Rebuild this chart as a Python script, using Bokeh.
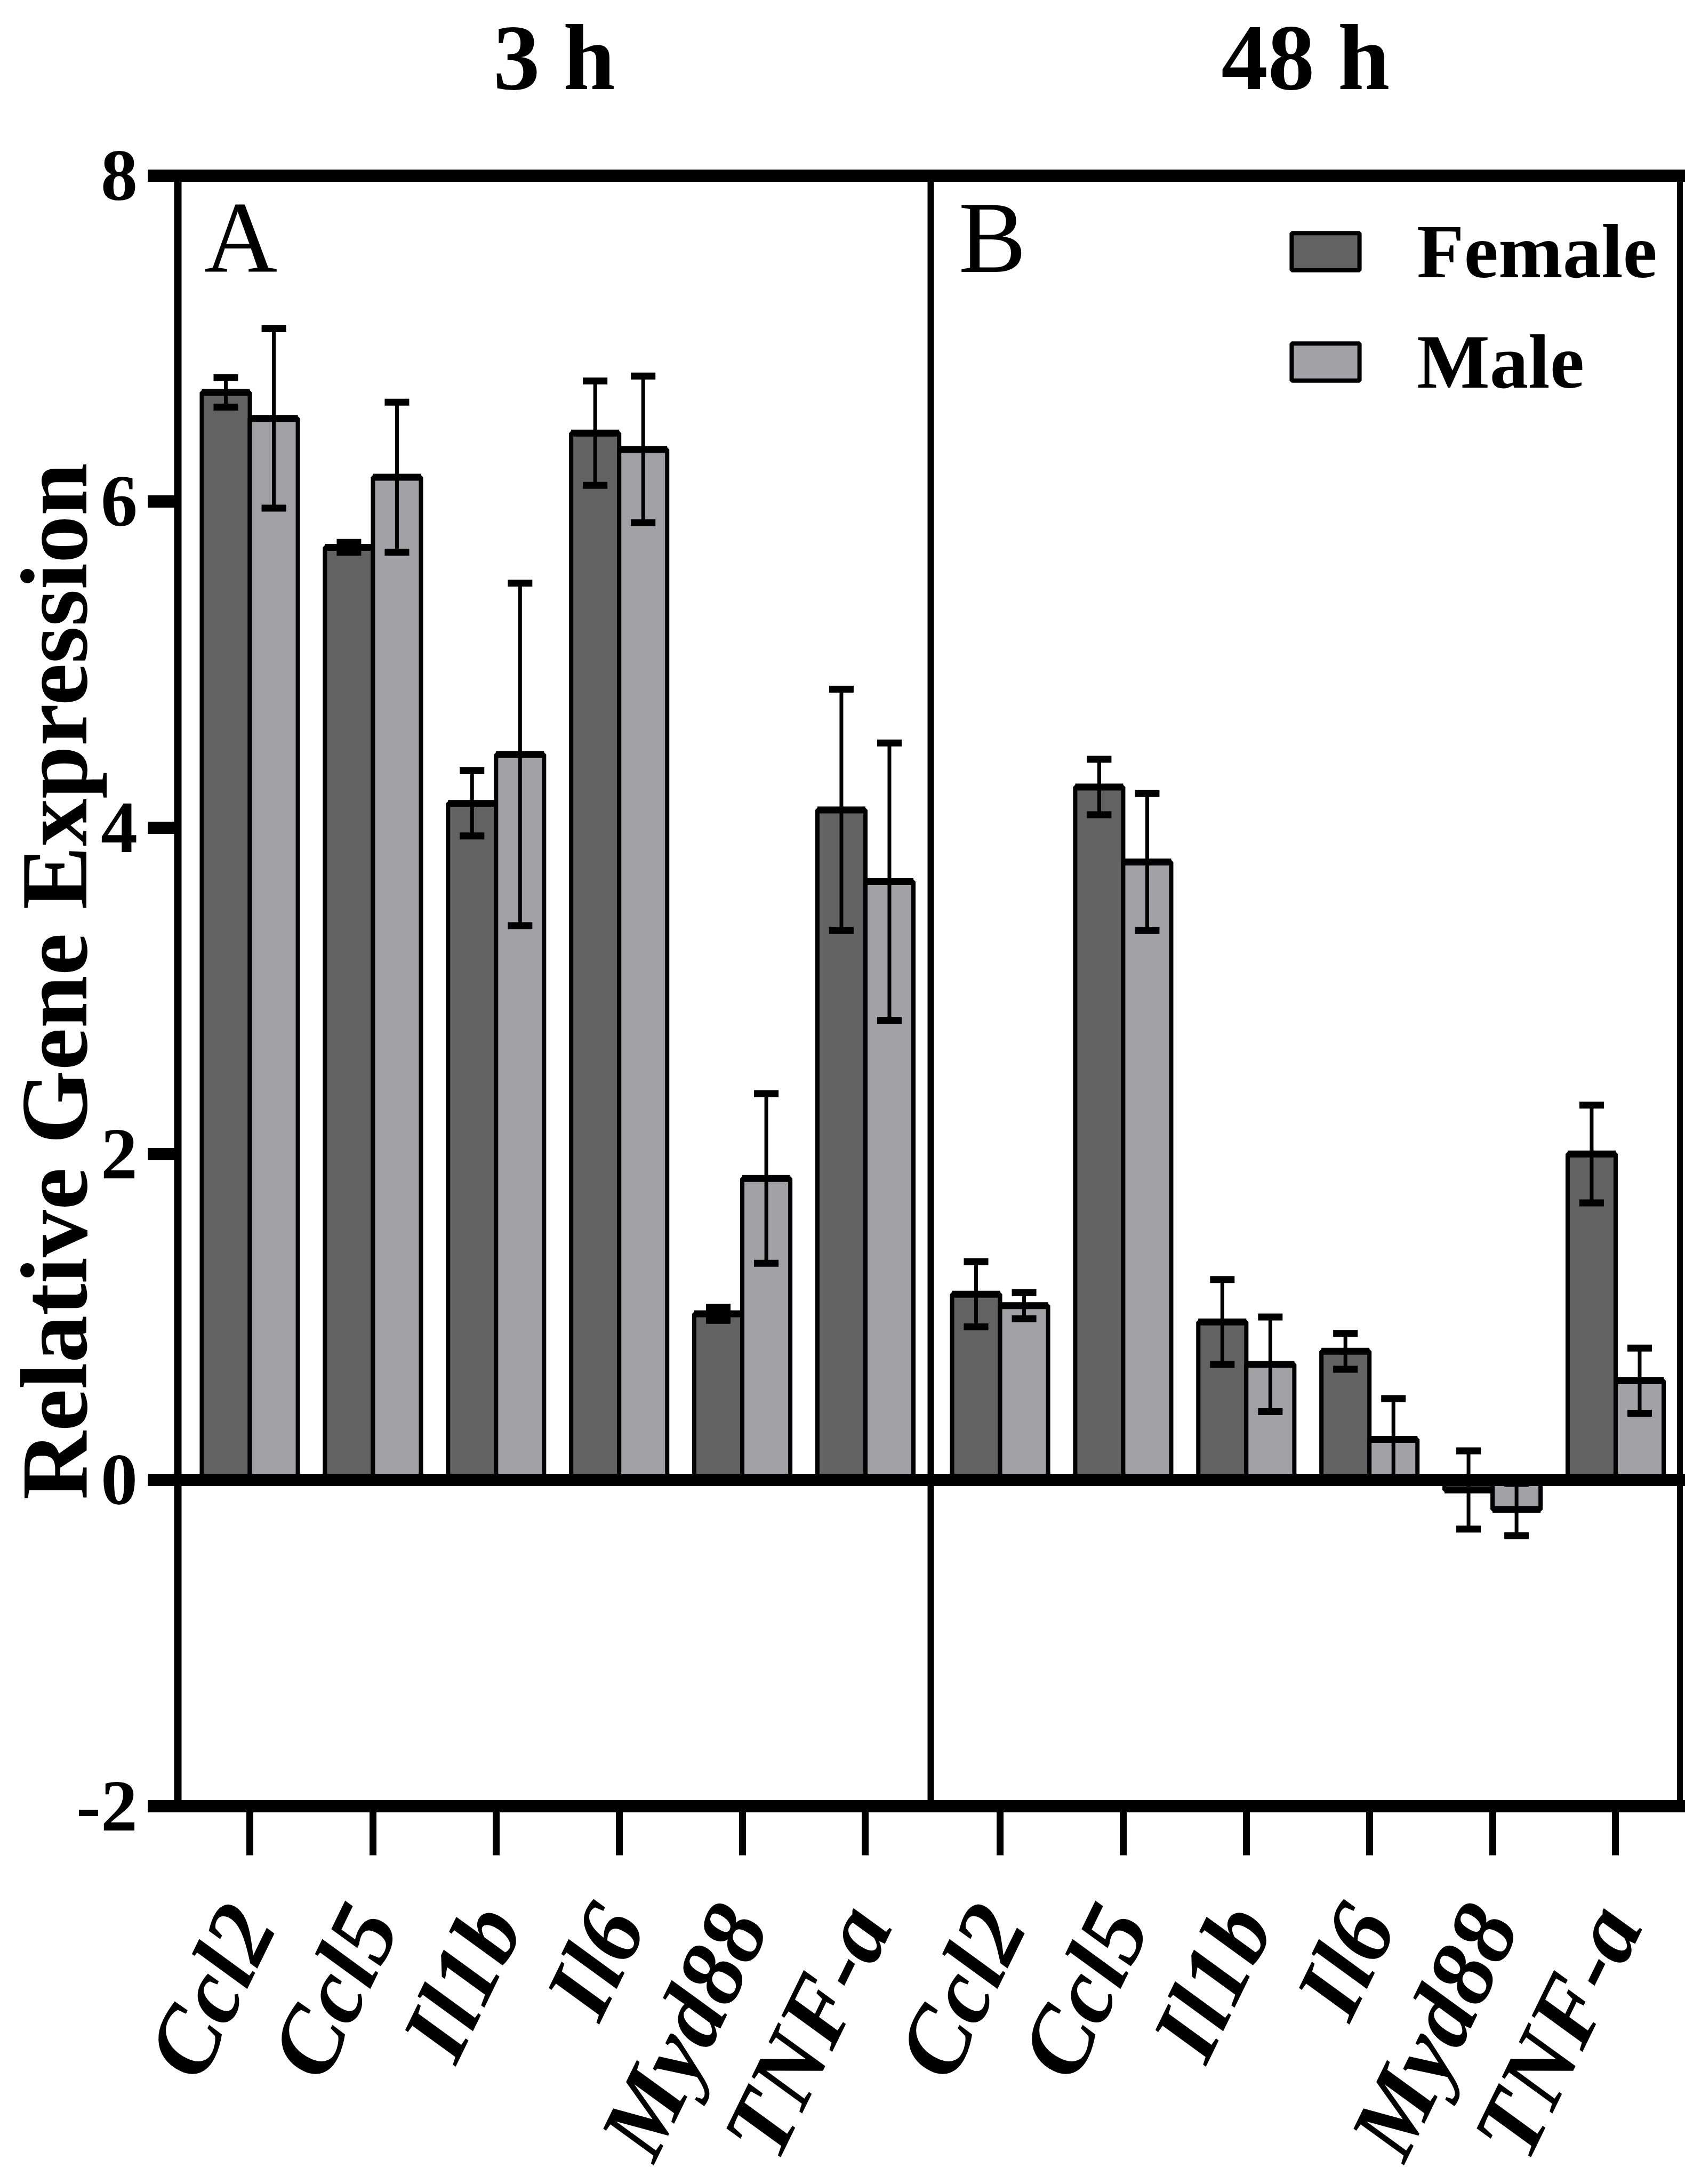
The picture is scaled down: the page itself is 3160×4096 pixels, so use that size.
import math
from bokeh.plotting import figure
from bokeh.models import (Range1d, LinearAxis, FixedTicker, CustomJSTickFormatter, ColumnDataSource,
                          Whisker, TeeHead, Label, Legend, LegendItem)
from bokeh.embed import file_html
from bokeh.resources import INLINE

# ---------------- data ----------------
genes = ["Ccl2", "Ccl5", "Il1b", "Il6", "Myd88", "TNF-a"]
panel_titles = ["3 h", "48 h"]
panel_letters = ["A", "B"]
series_names = ["Female", "Male"]

female_3h = [6.67, 5.72, 4.15, 6.42, 1.02, 4.11]
female_3h_err = [0.09, 0.03, 0.20, 0.32, 0.04, 0.74]
male_3h = [6.51, 6.15, 4.45, 6.32, 1.85, 3.67]
male_3h_err = [0.55, 0.46, 1.05, 0.45, 0.52, 0.85]

female_48h = [1.14, 4.25, 0.97, 0.79, -0.06, 2.00]
female_48h_err = [0.20, 0.17, 0.26, 0.11, 0.24, 0.30]
male_48h = [1.07, 3.79, 0.71, 0.25, -0.18, 0.61]
male_48h_err = [0.08, 0.42, 0.29, 0.25, 0.16, 0.20]

y_ticks = [-2, 0, 2, 4, 6, 8]
Y_MIN, Y_MAX = -2, 8

# ---------------- layout / style ----------------
FONT = "Liberation Serif"
W, H = 3160, 4096
# frame edges in canvas pixels
FR_L, FR_R, FR_T, FR_B = 332.5, 3150.2, 328.6, 3387.2
X_LEFT, X_DIV, X_RIGHT = -0.587, 5.532, 11.617
B_OFFSET = 6.094
BAR_W = 0.39
FEMALE_COLOR = "#626262"
MALE_COLOR = "#A2A2A6"

ux = (FR_R - FR_L) / (X_RIGHT - X_LEFT)
uy = (FR_B - FR_T) / (Y_MAX - Y_MIN)
x_start = X_LEFT - FR_L / ux
x_end = X_RIGHT + (W - FR_R) / ux
y_end = Y_MAX + FR_T / uy
y_start = Y_MIN - (H - FR_B) / uy

centers = [i for i in range(len(genes))] + [B_OFFSET + i for i in range(len(genes))]
labels_all = genes + genes

female_vals = female_3h + female_48h
female_errs = female_3h_err + female_48h_err
male_vals = male_3h + male_48h
male_errs = male_3h_err + male_48h_err


def make_src(vals, errs, shift):
    xs = [c + shift for c in centers]
    return ColumnDataSource(dict(
        x=xs,
        top=vals,
        x0=[x - BAR_W / 2 for x in xs],
        x1=[x + BAR_W / 2 for x in xs],
        upper=[v + e for v, e in zip(vals, errs)],
        lower=[v - e for v, e in zip(vals, errs)],
    ))


src_f = make_src(female_vals, female_errs, -BAR_W / 2)
src_m = make_src(male_vals, male_errs, BAR_W / 2)

p = figure(width=W, height=H,
           x_range=Range1d(x_start, x_end), y_range=Range1d(y_start, y_end),
           x_axis_location=None, y_axis_location=None,
           output_backend="svg", toolbar_location=None,
           min_border=0, min_border_left=0, min_border_right=0,
           min_border_top=0, min_border_bottom=0)
for g in list(p.xgrid) + list(p.ygrid):
    g.visible = False
p.background_fill_color = "white"
p.border_fill_color = "white"
p.outline_line_color = None

rf = p.vbar(x="x", top="top", bottom=0, width=BAR_W, source=src_f,
            fill_color=FEMALE_COLOR, line_color="black", line_width=8)
rm = p.vbar(x="x", top="top", bottom=0, width=BAR_W, source=src_m,
            fill_color=MALE_COLOR, line_color="black", line_width=8)
for s in (src_f, src_m):
    p.segment(x0="x0", y0="top", x1="x1", y1="top", source=s,
              line_color="black", line_width=13)


def plain_axis(axis, width):
    axis.ticker = FixedTicker(ticks=[])
    axis.axis_line_width = width
    axis.axis_line_color = "black"
    axis.axis_line_cap = "square"
    axis.major_tick_line_color = None
    axis.minor_tick_line_color = None
    axis.major_label_text_font_size = "0px"
    return axis


# frame lines, zero line and panel divider as bounded axes
p.add_layout(plain_axis(LinearAxis(fixed_location=Y_MAX, bounds=(X_LEFT, X_RIGHT)), 23), "above")
p.add_layout(plain_axis(LinearAxis(fixed_location=0, bounds=(X_LEFT, X_RIGHT)), 23), "below")
p.add_layout(plain_axis(LinearAxis(fixed_location=X_RIGHT, bounds=(Y_MIN, Y_MAX)), 11), "right")
p.add_layout(plain_axis(LinearAxis(fixed_location=X_DIV, bounds=(Y_MIN, Y_MAX)), 12), "right")

# y axis
ya = LinearAxis(fixed_location=X_LEFT, bounds=(Y_MIN, Y_MAX))
ya.ticker = FixedTicker(ticks=y_ticks)
ya.formatter = CustomJSTickFormatter(code="return tick.toFixed(0);")
ya.axis_line_width = 14
ya.axis_line_cap = "square"
ya.major_tick_line_width = 23
ya.major_tick_out = 56
ya.major_tick_in = 0
ya.minor_tick_line_color = None
ya.major_label_standoff = 19
ya.major_label_text_font = FONT
ya.major_label_text_font_style = "bold"
ya.major_label_text_font_size = "138px"
ya.major_label_text_color = "black"
p.add_layout(ya, "left")

# x axis
xa = LinearAxis(fixed_location=Y_MIN, bounds=(X_LEFT, X_RIGHT))
xa.ticker = FixedTicker(ticks=centers)
xa.formatter = CustomJSTickFormatter(args=dict(pos=centers, names=labels_all), code="""
let best = 0, d = 1e9;
for (let i = 0; i < pos.length; i++) { const e = Math.abs(pos[i] - tick); if (e < d) { d = e; best = i; } }
return names[best];
""")
xa.axis_line_width = 23
xa.axis_line_cap = "square"
xa.major_tick_line_width = 13
xa.major_tick_out = 92
xa.major_tick_in = 0
xa.minor_tick_line_color = None
xa.major_label_orientation = math.radians(64)
xa.major_label_standoff = 105
xa.major_label_text_font = FONT
xa.major_label_text_font_style = "bold italic"
xa.major_label_text_font_size = "176px"
xa.major_label_text_color = "black"
p.add_layout(xa, "below")

for s in (src_f, src_m):
    w = Whisker(source=s, base="x", upper="upper", lower="lower",
                line_color="black", line_width=7, level="annotation",
                upper_head=TeeHead(size=46, line_color="black", line_width=13),
                lower_head=TeeHead(size=46, line_color="black", line_width=13))
    p.add_layout(w)

# panel titles
for title, lo, hi in zip(panel_titles, [X_LEFT, X_DIV], [X_DIV, X_RIGHT]):
    p.add_layout(Label(x=(lo + hi) / 2, y=Y_MAX, y_offset=FR_T - 107, text=title,
                       text_align="center", text_baseline="middle",
                       text_font=FONT, text_font_style="bold",
                       text_font_size="175px", text_color="black"))

# panel letters
for letter, lo, off in zip(panel_letters, [X_LEFT, X_DIV], [50, 52]):
    p.add_layout(Label(x=lo, y=Y_MAX, x_offset=off, y_offset=-(445 - FR_T), text=letter,
                       text_align="left", text_baseline="middle",
                       text_font=FONT, text_font_style="normal",
                       text_font_size="190px", text_color="black"))

# y axis title (centre ~1840 px from the top)
p.add_layout(Label(x=X_LEFT, y=Y_MAX, x_offset=101 - FR_L, y_offset=-(1840 - FR_T),
                   text="Relative Gene Expression",
                   angle=math.pi / 2, text_align="center", text_baseline="middle",
                   text_font=FONT, text_font_style="bold",
                   text_font_size="178px", text_color="black"))

legend = Legend(items=[LegendItem(label=series_names[0], renderers=[rf]),
                       LegendItem(label=series_names[1], renderers=[rm])],
                location=(2406, 3335), orientation="vertical",
                glyph_width=159, glyph_height=87, label_height=87,
                label_standoff=92, spacing=41, padding=0, margin=0,
                label_text_font=FONT, label_text_font_style="bold",
                label_text_font_size="145px", label_text_color="black",
                border_line_color=None, background_fill_alpha=0)
p.add_layout(legend)

open("out.html", "w").write(file_html(p, INLINE))
